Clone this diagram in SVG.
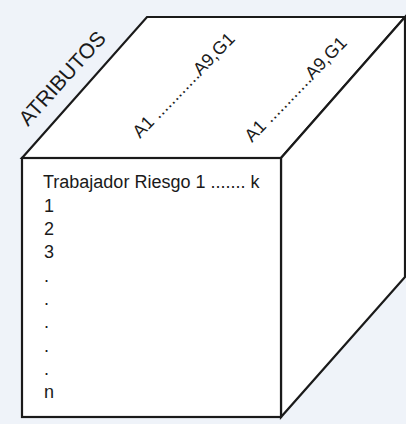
<svg xmlns="http://www.w3.org/2000/svg" width="406" height="424" viewBox="0 0 406 424">
<style>
.edge{fill:#ffffff;stroke:#1a1a1a;stroke-width:2.2;stroke-linejoin:miter}
.t{font-family:"Liberation Sans",Arial,sans-serif;fill:#1a1a1a}
.row{font-size:18px}
.lab{font-size:18px}
.big{font-size:21px}
</style>
<rect x="0" y="0" width="406" height="424" fill="#eff3f9"/>
<g id="cube">
<polygon id="top-face" class="edge" points="22,158 147,17 405,17 281,158"/>
<polygon id="right-face" class="edge" points="281,158 405,17 405,277 281,417"/>
<rect id="front-face" class="edge" x="22" y="158" width="259" height="259"/>
</g>
<g id="labels">
<text class="t big" transform="translate(28,127) rotate(-48)">ATRIBUTOS</text>
<text class="t lab" transform="translate(140,139) rotate(-46)">A1 ............A9,G1</text>
<text class="t lab" transform="translate(252,143) rotate(-46)">A1 ............A9,G1</text>
</g>
<g id="rows" class="t row">
<text x="43" y="188">Trabajador Riesgo 1 ....... k</text>
<text x="44" y="211.5">1</text>
<text x="44" y="235">2</text>
<text x="44" y="258">3</text>
<text x="44" y="281.5">.</text>
<text x="44" y="305">.</text>
<text x="44" y="328">.</text>
<text x="44" y="351.5">.</text>
<text x="44" y="375">.</text>
<text x="44" y="398">n</text>
</g>
</svg>
